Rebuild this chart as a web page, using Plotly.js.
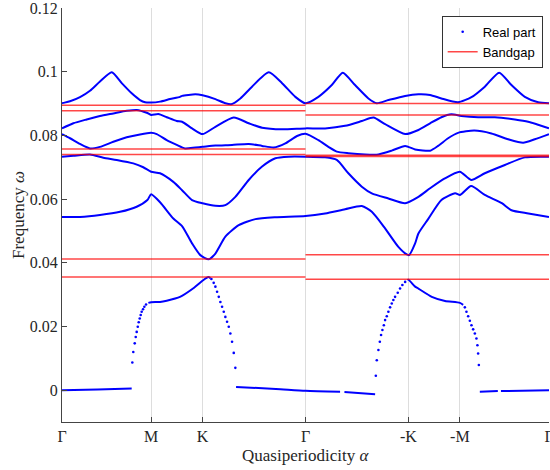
<!DOCTYPE html>
<html>
<head>
<meta charset="utf-8">
<script src="https://cdn.plot.ly/plotly-3.0.1.min.js"></script>
<style>html,body{margin:0;padding:0;background:#fff;}#chart{width:550px;height:470px;}</style>
</head>
<body>
<div id="chart"></div>
<script>
// High-symmetry path positions and labels
const xTicks = [0, 1, 1.5774, 2.7321, 3.8868, 4.4641, 5.4641];
const xTickText = ['Γ', 'M', 'K', 'Γ', '-K', '-M', 'Γ'];
const yTickVals = [0, 0.02, 0.04, 0.06, 0.08, 0.1, 0.12];
const yTickText = ['0', '0.02', '0.04', '0.06', '0.08', '0.1', '0.12'];

// Band 6 (top)
const band6X = [0, 0.015, 0.090, 0.202, 0.314, 0.426, 0.558, 0.670, 0.782, 0.875, 0.932, 1.0, 1.100, 1.212, 1.324, 1.347, 1.496, 1.577, 1.721, 1.833, 1.900, 2.001, 2.132, 2.320, 2.469, 2.618, 2.732, 2.877, 3.027, 3.150, 3.288, 3.438, 3.532, 3.662, 3.850, 3.999, 4.130, 4.257, 4.444, 4.594, 4.744, 4.905, 5.043, 5.193, 5.342, 5.464];
const band6Y = [0.0901, 0.0902, 0.0907, 0.0920, 0.0940, 0.0969, 0.0998, 0.0964, 0.0932, 0.0911, 0.0904, 0.0903, 0.0906, 0.0914, 0.0921, 0.0924, 0.0929, 0.0926, 0.0914, 0.0901, 0.0898, 0.0916, 0.0953, 0.0998, 0.0964, 0.0921, 0.0901, 0.0921, 0.0958, 0.0997, 0.0958, 0.0916, 0.0901, 0.0911, 0.0924, 0.0929, 0.0927, 0.0916, 0.0904, 0.0920, 0.0953, 0.0997, 0.0958, 0.0921, 0.0904, 0.0901];

// Band 5
const band5X = [0, 0.127, 0.277, 0.426, 0.576, 0.726, 0.838, 0.951, 1.0, 1.081, 1.175, 1.287, 1.347, 1.459, 1.577, 1.721, 1.927, 2.095, 2.245, 2.469, 2.732, 2.952, 3.176, 3.364, 3.494, 3.625, 3.850, 3.999, 4.130, 4.257, 4.369, 4.481, 4.669, 4.856, 5.081, 5.230, 5.464];
const band5Y = [0.0822, 0.0838, 0.0850, 0.0861, 0.0869, 0.0877, 0.0880, 0.0871, 0.0864, 0.0867, 0.0857, 0.0845, 0.0843, 0.0822, 0.0804, 0.0827, 0.0856, 0.0838, 0.0824, 0.0819, 0.0822, 0.0822, 0.0830, 0.0845, 0.0856, 0.0835, 0.0804, 0.0817, 0.0838, 0.0857, 0.0866, 0.0861, 0.0857, 0.0857, 0.0850, 0.0843, 0.0822];

// Band 4
const band4X = [0, 0.090, 0.202, 0.314, 0.426, 0.576, 0.726, 0.875, 1.0, 1.063, 1.175, 1.287, 1.380, 1.496, 1.577, 1.721, 1.908, 2.095, 2.245, 2.376, 2.506, 2.637, 2.732, 2.877, 2.989, 3.083, 3.213, 3.401, 3.550, 3.700, 3.850, 3.962, 4.130, 4.220, 4.332, 4.444, 4.626, 4.818, 5.006, 5.174, 5.305, 5.464];
const band4Y = [0.0804, 0.0791, 0.0773, 0.0759, 0.0764, 0.0780, 0.0794, 0.0803, 0.0808, 0.0804, 0.0785, 0.0770, 0.0759, 0.0762, 0.0764, 0.0768, 0.0770, 0.0773, 0.0767, 0.0762, 0.0775, 0.0798, 0.0805, 0.0785, 0.0764, 0.0749, 0.0744, 0.0740, 0.0740, 0.0752, 0.0767, 0.0756, 0.0752, 0.0767, 0.0791, 0.0808, 0.0815, 0.0806, 0.0788, 0.0777, 0.0788, 0.0804];

// Band 3
const band3X = [0, 0.127, 0.314, 0.464, 0.614, 0.800, 0.912, 1.0, 1.100, 1.249, 1.347, 1.459, 1.577, 1.721, 1.833, 1.945, 2.095, 2.245, 2.394, 2.544, 2.732, 2.952, 3.083, 3.213, 3.364, 3.476, 3.662, 3.850, 3.999, 4.130, 4.295, 4.464, 4.590, 4.744, 4.969, 5.193, 5.464];
const band3Y = [0.0733, 0.0736, 0.0740, 0.0730, 0.0723, 0.0712, 0.0700, 0.0686, 0.0681, 0.0654, 0.0628, 0.0597, 0.0587, 0.0579, 0.0581, 0.0607, 0.0660, 0.0702, 0.0728, 0.0733, 0.0733, 0.0731, 0.0723, 0.0681, 0.0639, 0.0618, 0.0602, 0.0587, 0.0607, 0.0634, 0.0665, 0.0686, 0.0660, 0.0681, 0.0707, 0.0731, 0.0733];

// Band 2
const band2X = [0, 0.202, 0.426, 0.651, 0.838, 0.958, 1.0, 1.100, 1.249, 1.347, 1.459, 1.552, 1.646, 1.721, 1.833, 1.983, 2.169, 2.394, 2.732, 2.952, 3.176, 3.364, 3.476, 3.625, 3.774, 3.869, 3.894, 3.962, 3.999, 4.108, 4.257, 4.411, 4.467, 4.590, 4.744, 4.935, 5.043, 5.233, 5.464];
const band2Y = [0.0544, 0.0544, 0.0550, 0.0560, 0.0576, 0.0597, 0.0615, 0.0590, 0.0539, 0.0515, 0.0461, 0.0424, 0.0411, 0.0429, 0.0482, 0.0518, 0.0537, 0.0543, 0.0547, 0.0555, 0.0568, 0.0578, 0.0560, 0.0508, 0.0450, 0.0426, 0.0424, 0.0461, 0.0492, 0.0537, 0.0597, 0.0618, 0.0613, 0.0641, 0.0613, 0.0587, 0.0565, 0.0555, 0.0544];

// Band 1 (lowest): continuous pieces (null = break)
const band1LineX = [0, 0.400, 0.782, null, 0.969, 1.0, 1.100, 1.175, 1.324, 1.474, 1.587, 1.643, 1.665, null, 1.953, 2.400, 2.732, 3.120, null, 3.169, 3.513, null, 3.875, 3.887, 3.962, 3.999, 4.149, 4.298, 4.464, 4.501, null, 4.688, 4.890, null, 4.925, 5.464];
const band1LineY = [0.0000, 0.0002, 0.0005, null, 0.0274, 0.0276, 0.0277, 0.0281, 0.0293, 0.0320, 0.0346, 0.0355, 0.0352, null, 0.0010, 0.0004, -0.0002, -0.0005, null, -0.0006, -0.0013, null, 0.0346, 0.0347, 0.0325, 0.0319, 0.0293, 0.0280, 0.0274, 0.0268, null, -0.0005, -0.0003, null, -0.0003, 0.0000];

// Band 1 steep sections, drawn as sparse sample dots
const band1DotX = [0.789, 0.800, 0.816, 0.827, 0.838, 0.850, 0.861, 0.872, 0.883, 0.894, 0.909, 0.924, 0.943,
  1.676, 1.702, 1.721, 1.740, 1.759, 1.777, 1.796, 1.815, 1.833, 1.852, 1.871, 1.889, 1.908, 1.927, 1.945,
  3.521, 3.532, 3.550, 3.566, 3.580, 3.595, 3.611, 3.625, 3.644, 3.662, 3.681, 3.700, 3.718, 3.737, 3.767, 3.793, 3.819, 3.850,
  4.520, 4.538, 4.557, 4.576, 4.594, 4.613, 4.632, 4.650, 4.661, 4.669, 4.677];
const band1DotY = [0.0087, 0.0120, 0.0147, 0.0167, 0.0183, 0.0199, 0.0213, 0.0225, 0.0236, 0.0246, 0.0254, 0.0262, 0.0269,
  0.0349, 0.0337, 0.0325, 0.0309, 0.0293, 0.0277, 0.0262, 0.0246, 0.0230, 0.0215, 0.0199, 0.0178, 0.0152, 0.0117, 0.0070,
  0.0045, 0.0094, 0.0126, 0.0152, 0.0173, 0.0189, 0.0204, 0.0220, 0.0232, 0.0246, 0.0260, 0.0272, 0.0283, 0.0293, 0.0306, 0.0319, 0.0330, 0.0340,
  0.0260, 0.0246, 0.0232, 0.0218, 0.0204, 0.0191, 0.0178, 0.0162, 0.0141, 0.0115, 0.0079];

// Bandgap edges: left half (Γ→M→K→Γ) and right half (Γ→-K→-M→Γ)
const gapLeft = [0.0895, 0.0877, 0.0757, 0.0740, 0.0412, 0.0355];
const gapRight = [0.0900, 0.0864, 0.0738, 0.0734, 0.0425, 0.0348];

const BLUE = 'rgb(0,0,255)';
const RED = 'rgba(255,0,0,0.72)';
const serif = 'Liberation Serif, Times New Roman, serif';
const txt = '#262626';

const traces = [];
[[band6X, band6Y], [band5X, band5Y], [band4X, band4Y], [band3X, band3Y], [band2X, band2Y]].forEach(function (b) {
  traces.push({x: b[0], y: b[1], type: 'scatter', mode: 'lines', line: {color: BLUE, width: 2, shape: 'spline', smoothing: 0.6}, showlegend: false, hoverinfo: 'skip'});
});
traces.push({x: band1LineX, y: band1LineY, type: 'scatter', mode: 'lines', connectgaps: false, line: {color: BLUE, width: 2, shape: 'spline', smoothing: 0.6}, showlegend: false, hoverinfo: 'skip'});
traces.push({x: band1DotX, y: band1DotY, type: 'scatter', mode: 'markers', name: 'Real part', legendrank: 1, marker: {color: BLUE, size: 2.6, line: {width: 0}}, showlegend: true});

const gx = [], gy = [];
gapLeft.forEach(function (v) { gx.push(xTicks[0], xTicks[3], null); gy.push(v, v, null); });
gapRight.forEach(function (v) { gx.push(xTicks[3], xTicks[6], null); gy.push(v, v, null); });
traces.push({x: gx, y: gy, type: 'scatter', mode: 'lines', name: 'Bandgap', legendrank: 2, connectgaps: false, line: {color: RED, width: 1.5}});

const layout = {
  width: 550, height: 470,
  margin: {l: 62, r: 1, t: 8, b: 48},
  paper_bgcolor: '#fff', plot_bgcolor: '#fff',
  showlegend: true,
  legend: {x: 0.987, y: 0.981, xanchor: 'right', yanchor: 'top', bgcolor: '#fff', bordercolor: '#333', borderwidth: 1,
    font: {family: 'Liberation Sans, Arial, sans-serif', size: 13, color: '#000'}, tracegroupgap: 0},
  xaxis: {
    range: [0, 5.4641], tickmode: 'array', tickvals: xTicks, ticktext: xTickText, ticklabeloverflow: 'allow',
    ticks: 'inside', ticklen: 5, tickcolor: '#444', showline: true, linecolor: '#444', linewidth: 1,
    showgrid: true, gridcolor: '#dddddd', gridwidth: 1, zeroline: false,
    tickfont: {family: serif, size: 16, color: txt}
  },
  yaxis: {
    range: [-0.01, 0.12], tickmode: 'array', tickvals: yTickVals, ticktext: yTickText, ticklabeloverflow: 'allow',
    ticks: 'inside', ticklen: 5, tickcolor: '#444', showline: true, linecolor: '#444', linewidth: 1,
    showgrid: false, zeroline: false,
    tickfont: {family: serif, size: 16, color: txt}
  },
  annotations: [
    {text: 'Quasiperiodicity <i>α</i>', xref: 'paper', yref: 'paper', x: 0.5, y: -0.0805, xanchor: 'center', yanchor: 'middle',
      showarrow: false, font: {family: serif, size: 17, color: txt}},
    {text: 'Frequency <i>ω</i>', xref: 'paper', yref: 'paper', x: -0.0903, y: 0.5, xanchor: 'center', yanchor: 'middle',
      textangle: -90, showarrow: false, font: {family: serif, size: 17, color: txt}}
  ]
};

Plotly.newPlot('chart', traces, layout, {staticPlot: true, displayModeBar: false});
</script>
</body>
</html>
